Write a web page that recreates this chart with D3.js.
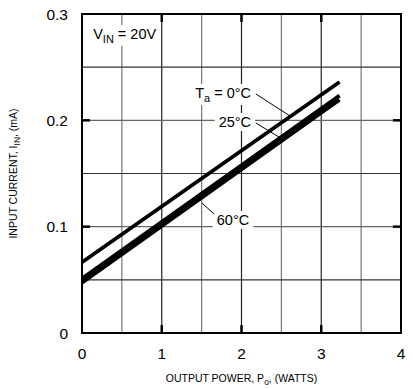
<!DOCTYPE html>
<html>
<head>
<meta charset="utf-8">
<script src="https://cdn.jsdelivr.net/npm/d3@7"></script>
<style>
  body { margin: 0; background: #fff; }
  svg { display: block; font-family: "Liberation Sans", Arial, sans-serif; }
</style>
</head>
<body>
<div id="chart"></div>
<script>
// dados
const temps = ["0°C", "25°C", "60°C"];
const powerPts = [0, 3.23];
const current0 = [0.0665, 0.236];
const current25 = [0.0513, 0.2232];
const current60 = [0.0474, 0.2193];
const xTicks = [0, 1, 2, 3, 4];
const yTicks = [0, 0.1, 0.2, 0.3];
const xGrid = [0.5, 1, 1.5, 2, 2.5, 3, 3.5];
const yGrid = [0.05, 0.1, 0.15, 0.2, 0.25];

const width = 413, height = 389;
const margin = { left: 82, right: 12, top: 14, bottom: 56 };

const svg = d3.select("#chart").append("svg")
    .attr("width", width)
    .attr("height", height);

const x = d3.scaleLinear().domain([0, 4]).range([margin.left, width - margin.right]);
const y = d3.scaleLinear().domain([0, 0.3]).range([height - margin.bottom, margin.top]);

// grade
svg.append("g").selectAll("line").data(xGrid).join("line")
    .attr("x1", d => x(d)).attr("x2", d => x(d))
    .attr("y1", y(0)).attr("y2", y(0.3))
    .attr("stroke", (d, i) => i % 2 ? "#222" : "#777")
    .attr("stroke-width", 1.2);
svg.append("g").selectAll("line").data(yGrid).join("line")
    .attr("y1", d => y(d)).attr("y2", d => y(d))
    .attr("x1", x(0)).attr("x2", x(4))
    .attr("stroke", (d, i) => i % 2 ? "#666" : "#333")
    .attr("stroke-width", 1.2);

// ticks internos
const tl = 8;
const tickG = svg.append("g").attr("stroke", "#000").attr("stroke-width", 2.5);
[1, 2, 3].forEach(v => {
    tickG.append("line").attr("x1", x(v)).attr("x2", x(v)).attr("y1", y(0)).attr("y2", y(0) - tl);
    tickG.append("line").attr("x1", x(v)).attr("x2", x(v)).attr("y1", y(0.3)).attr("y2", y(0.3) + tl);
});
[0.1, 0.2].forEach(v => {
    tickG.append("line").attr("y1", y(v)).attr("y2", y(v)).attr("x1", x(0)).attr("x2", x(0) + tl);
    tickG.append("line").attr("y1", y(v)).attr("y2", y(v)).attr("x1", x(4)).attr("x2", x(4) - tl);
});

// rótulos com fundo branco
function boxed(g) {
    const b = g.node().getBBox();
    g.insert("rect", ":first-child")
        .attr("x", b.x - 4).attr("y", b.y - 1)
        .attr("width", b.width + 8).attr("height", b.height + 2)
        .attr("fill", "#fff");
}

const vin = svg.append("g");
const vinT = vin.append("text").attr("x", x(0.14)).attr("y", y(0.2765))
    .attr("font-size", 14.5).attr("fill", "#000");
vinT.append("tspan").text("V");
vinT.append("tspan").text("IN").attr("font-size", 11).attr("dy", 4);
vinT.append("tspan").text(" = 20V").attr("dy", -4);
boxed(vin);

const labelData = [
    { name: temps[0], tx: 2.12, ty: 0.221, anchor: "end", lx: [2.18, 2.61], ly: [0.2248, 0.204], sub: true },
    { name: temps[1], tx: 2.12, ty: 0.1937, anchor: "end", lx: [2.18, 2.49], ly: [0.1975, 0.1834] },
    { name: temps[2], tx: 1.69, ty: 0.1016, anchor: "start", lx: [1.655, 1.505], ly: [0.1119, 0.1223] }
];

labelData.forEach(d => {
    const g = svg.append("g");
    const t = g.append("text").attr("x", x(d.tx)).attr("y", y(d.ty))
        .attr("text-anchor", d.anchor).attr("font-size", 14.5);
    if (d.sub) {
        t.append("tspan").text("T");
        t.append("tspan").text("a").attr("font-size", 11).attr("dy", 4);
        t.append("tspan").text(" = " + d.name).attr("dy", -4);
    } else {
        t.text(d.name);
    }
    boxed(g);
});

// linhas de chamada
svg.append("g").selectAll("line").data(labelData).join("line")
    .attr("x1", d => x(d.lx[0])).attr("y1", d => y(d.ly[0]))
    .attr("x2", d => x(d.lx[1])).attr("y2", d => y(d.ly[1]))
    .attr("stroke", "#000").attr("stroke-width", 1);

// curvas
const series = [current0, current25, current60];
const line = d3.line().x(d => x(d[0])).y(d => y(d[1]));
svg.append("g").selectAll("path").data(series).join("path")
    .attr("d", s => line(powerPts.map((p, i) => [p, s[i]])))
    .attr("fill", "none")
    .attr("stroke", "#000")
    .attr("stroke-width", 3.8);

// moldura
svg.append("rect")
    .attr("x", x(0)).attr("y", y(0.3))
    .attr("width", x(4) - x(0)).attr("height", y(0) - y(0.3))
    .attr("fill", "none").attr("stroke", "#000").attr("stroke-width", 2);

// rótulos dos eixos
svg.append("g").selectAll("text").data(xTicks).join("text")
    .attr("x", d => x(d)).attr("y", y(0) + 26)
    .attr("text-anchor", "middle").attr("font-size", 15.5)
    .text(d => d);
svg.append("g").selectAll("text").data(yTicks).join("text")
    .attr("x", x(0) - 14).attr("y", d => y(d) + 5.5)
    .attr("text-anchor", "end").attr("font-size", 15.5)
    .text(d => d === 0 ? "0" : d.toFixed(1));

const xl = svg.append("text").attr("x", (x(0) + x(4)) / 2).attr("y", 382)
    .attr("text-anchor", "middle").attr("font-size", 10.5);
xl.append("tspan").text("OUTPUT POWER, P");
xl.append("tspan").text("o").attr("font-size", 8.5).attr("dy", 3);
xl.append("tspan").text(", (WATTS)").attr("dy", -3);

const yl = svg.append("text")
    .attr("transform", `translate(17,${(y(0) + y(0.3)) / 2}) rotate(-90)`)
    .attr("text-anchor", "middle").attr("font-size", 10.5);
yl.append("tspan").text("INPUT CURRENT, I");
yl.append("tspan").text("IN").attr("font-size", 8.5).attr("dy", 3);
yl.append("tspan").text(", (mA)").attr("dy", -3);
</script>
</body>
</html>
